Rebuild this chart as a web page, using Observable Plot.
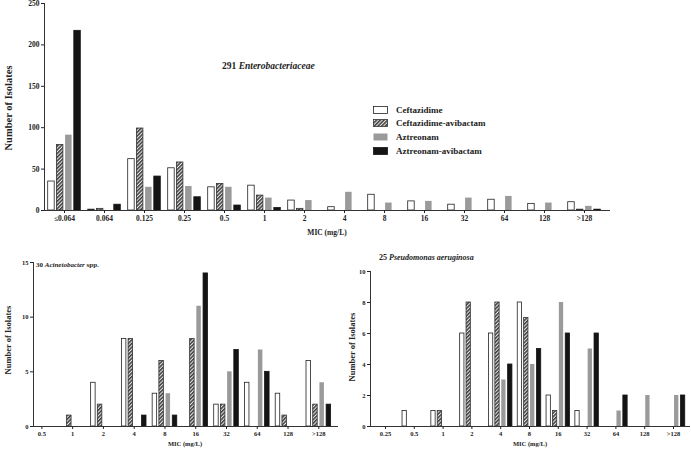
<!DOCTYPE html>
<html><head><meta charset="utf-8">
<script src="https://cdn.jsdelivr.net/npm/d3@7"></script>
<script src="https://cdn.jsdelivr.net/npm/@observablehq/plot@0.6"></script>
<style>
body{margin:0;background:#fff;}
#wrap{position:relative;width:691px;height:450px;font-family:"Liberation Serif","DejaVu Serif",serif;font-weight:bold;color:#222;overflow:hidden;}
.panel{position:absolute;}
.lbl{position:absolute;white-space:nowrap;transform:translate(-50%,-50%);}
.lbl.left{transform:translate(0,-50%);}
.rot{transform:translate(-50%,-50%) rotate(-90deg);}
.leg{position:absolute;left:373px;font-size:9px;}
.leg div{height:13.6px;display:flex;align-items:center;}
.leg svg{margin-right:8px;}
</style></head><body>
<svg width="0" height="0" style="position:absolute"><defs>
<pattern id="hatch" patternUnits="userSpaceOnUse" width="2.6" height="2.6" patternTransform="rotate(45)">
<rect width="2.6" height="2.6" fill="#e8e8e8"/><rect width="1.5" height="2.6" fill="#3c3c3c"/></pattern>
</defs></svg>
<div id="wrap"></div>
<script>
// ---- data ----
const drugs = ["Ceftazidime", "Ceftazidime-avibactam", "Aztreonam", "Aztreonam-avibactam"];

const entCats = ["≤0.064", "0.064", "0.125", "0.25", "0.5", "1", "2", "4", "8", "16", "32", "64", "128", ">128"];
const entCeftazidime = [35, 1, 62, 51, 28, 30, 12, 4, 19, 11, 7, 13, 8, 10];
const entCeftazidimeAvibactam = [79, 2, 99, 58, 32, 18, 2, 0, 0, 0, 0, 0, 0, 1];
const entAztreonam = [91, 0, 28, 29, 28, 15, 12, 22, 9, 11, 15, 17, 9, 5];
const entAztreonamAvibactam = [217, 7, 41, 16, 6, 3, 0, 0, 0, 0, 0, 0, 0, 1];
const entYTicks = [0, 50, 100, 150, 200, 250];

const aciCats = ["0.5", "1", "2", "4", "8", "16", "32", "64", "128", ">128"];
const aciCeftazidime = [0, 0, 4, 8, 3, 0, 2, 4, 3, 6];
const aciCeftazidimeAvibactam = [0, 1, 2, 8, 6, 8, 2, 0, 1, 2];
const aciAztreonam = [0, 0, 0, 0, 3, 11, 5, 7, 0, 4];
const aciAztreonamAvibactam = [0, 0, 0, 1, 1, 14, 7, 5, 0, 2];
const aciYTicks = [0, 5, 10, 15];

const psaCats = ["0.25", "0.5", "1", "2", "4", "8", "16", "32", "64", "128", ">128"];
const psaCeftazidime = [0, 1, 1, 6, 6, 8, 2, 1, 0, 0, 0];
const psaCeftazidimeAvibactam = [0, 0, 1, 8, 8, 7, 1, 0, 0, 0, 0];
const psaAztreonam = [0, 0, 0, 0, 3, 4, 8, 5, 1, 2, 2];
const psaAztreonamAvibactam = [0, 0, 0, 0, 4, 5, 6, 6, 2, 0, 2];
const psaYTicks = [0, 2, 4, 6, 8, 10];

// ---- styles ----
const fills = ["#ffffff", "url(#hatch)", "#9a9a9a", "#141414"];
const strokes = ["#222", "#333", "none", "#141414"];

function panel(o) {
  const series = o.series;
  const marks = [];
  series.forEach((vals, k) => {
    const rows = vals.map((v, i) => ({i, k, v})).filter(d => d.v > 0);
    marks.push(Plot.rectY(rows, {
      x1: d => d.i + (d.k - 1.5) * o.pitch - o.barW / 2,
      x2: d => d.i + (d.k - 1.5) * o.pitch + o.barW / 2,
      y1: 0, y2: "v",
      fill: fills[k], stroke: strokes[k], strokeWidth: 0.8
    }));
  });
  marks.push(Plot.ruleY([0], {stroke: "#333", strokeWidth: 1}));
  marks.push(Plot.ruleX([o.xDomain[0]], {y1: 0, y2: o.yDomain[1], stroke: "#333", strokeWidth: 1}));
  marks.push(Plot.axisX({ticks: d3.range(o.cats.length), tickFormat: i => o.cats[i], tickSize: 3, tickPadding: 2, fontSize: o.fs, label: null}));
  marks.push(Plot.axisY({ticks: o.yTicks, tickSize: 3, tickPadding: 2, fontSize: o.fs, label: null}));
  return Plot.plot({
    width: o.width, height: o.height,
    marginLeft: o.mL, marginRight: o.mR, marginTop: o.mT, marginBottom: o.mB,
    x: {type: "linear", domain: o.xDomain},
    y: {domain: o.yDomain},
    style: {fontFamily: "'Liberation Serif', 'DejaVu Serif', serif", fontWeight: "bold", color: "#222", background: "transparent", overflow: "visible"},
    marks
  });
}

const wrap = document.getElementById("wrap");
function place(el, left, top) {
  el.classList.add("panel");
  el.style.left = left + "px"; el.style.top = top + "px";
  wrap.appendChild(el);
}
function label(html, x, y, size, mode) {
  const d = document.createElement("div");
  d.className = "lbl" + (mode === "rot" ? " rot" : mode === "left" ? " left" : "");
  d.style.left = x + "px"; d.style.top = y + "px"; d.style.fontSize = size + "px";
  d.innerHTML = html;
  wrap.appendChild(d);
}

place(panel({
  cats: entCats,
  series: [entCeftazidime, entCeftazidimeAvibactam, entAztreonam, entAztreonamAvibactam],
  width: 620, height: 240, mL: 44, mR: 10, mT: 3, mB: 30,
  xDomain: [-0.5, 13.65], yDomain: [0, 250], yTicks: entYTicks,
  barW: 0.1625, pitch: 0.2175, fs: 7.5
}), 0, 0);

place(panel({
  cats: aciCats,
  series: [aciCeftazidime, aciCeftazidimeAvibactam, aciAztreonam, aciAztreonamAvibactam],
  width: 340, height: 200, mL: 33, mR: 2, mT: 12, mB: 24,
  xDomain: [-0.273, 9.64], yDomain: [0, 15], yTicks: aciYTicks,
  barW: 0.146, pitch: 0.218, fs: 6.5
}), 0, 250);

place(panel({
  cats: psaCats,
  series: [psaCeftazidime, psaCeftazidimeAvibactam, psaAztreonam, psaAztreonamAvibactam],
  width: 351, height: 200, mL: 30, mR: 1, mT: 21, mB: 24,
  xDomain: [-0.52, 10.59], yDomain: [0, 10], yTicks: psaYTicks,
  barW: 0.149, pitch: 0.222, fs: 6.5
}), 340, 250);

// titles and axis labels
label("291 <i>Enterobacteriaceae</i>", 222, 66, 9.5, "left");
label("MIC (mg/L)", 327, 232, 7.5);
label("Number of Isolates", 8, 108, 10.5, "rot");

label("30 <i>Acinetobacter</i> spp.", 36, 265, 7, "left");
label("MIC (mg/L)", 185, 443, 6.5);
label("Number of Isolates", 8, 340, 8.5, "rot");

label("25 <i>Pseudomonas aeruginosa</i>", 379, 257, 8, "left");
label("MIC (mg/L)", 530, 443, 6.5);
label("Number of Isolates", 352, 347, 8.5, "rot");

// legend
const leg = document.createElement("div");
leg.className = "leg";
leg.style.top = "103px";
drugs.forEach((name, k) => {
  const row = document.createElement("div");
  row.innerHTML = `<svg width="15" height="8"><rect x="0.5" y="0.5" width="14" height="7" fill="${fills[k]}" stroke="${strokes[k]}" stroke-width="0.8"/></svg><span>${name}</span>`;
  leg.appendChild(row);
});
wrap.appendChild(leg);
</script>
</body></html>
